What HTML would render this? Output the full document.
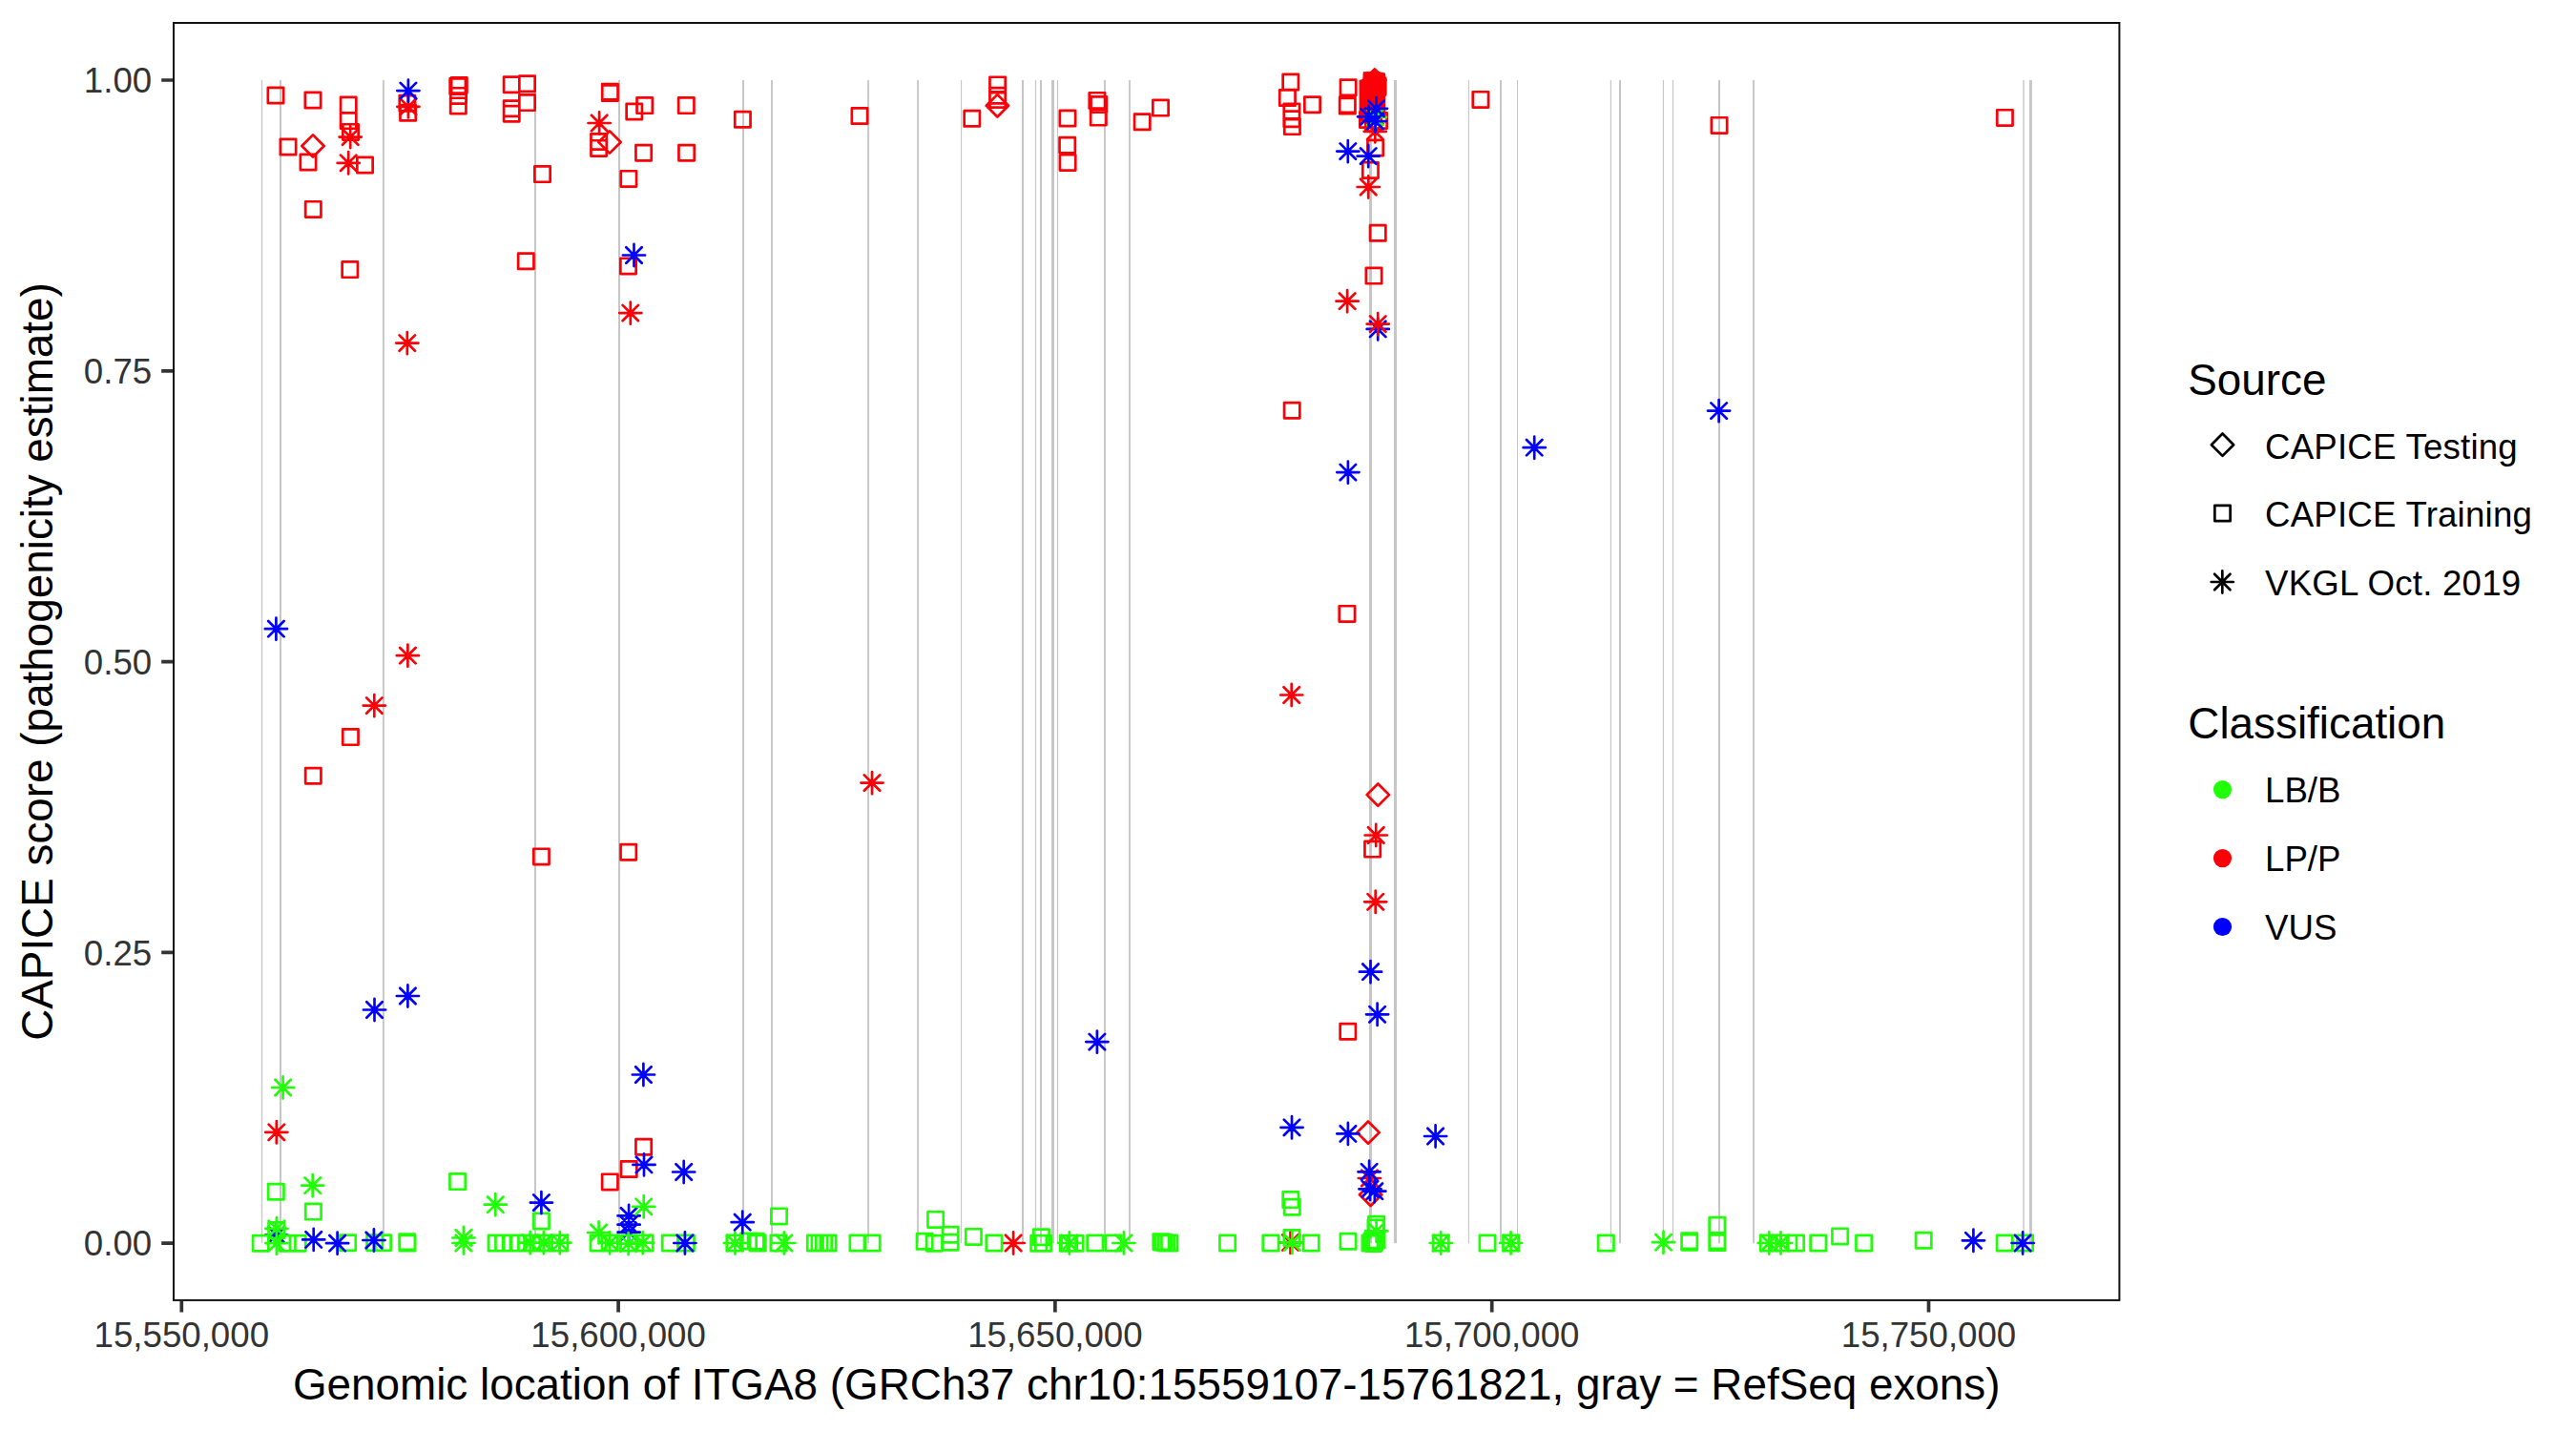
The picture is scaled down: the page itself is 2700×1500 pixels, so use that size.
<!DOCTYPE html>
<html><head><meta charset="utf-8"><title>CAPICE score plot</title>
<style>
html,body{margin:0;padding:0;background:#fff;}
body{width:2700px;height:1500px;overflow:hidden;}
svg{display:block;}
text{font-family:"Liberation Sans",Arial,Helvetica,sans-serif;}
</style></head><body>
<svg width="2700" height="1500" viewBox="0 0 2700 1500">
<rect x="0" y="0" width="2700" height="1500" fill="#ffffff"/>
<g fill="#C6C6C6"><rect x="273.85" y="84" width="1.3" height="1219.2"/><rect x="293" y="84" width="2" height="1219.2"/><rect x="400.95" y="84" width="1.9" height="1219.2"/><rect x="560" y="84" width="2" height="1219.2"/><rect x="648" y="84" width="2" height="1219.2"/><rect x="778.05" y="84" width="1.9" height="1219.2"/><rect x="808.05" y="84" width="1.9" height="1219.2"/><rect x="909.15" y="84" width="1.9" height="1219.2"/><rect x="961.15" y="84" width="1.9" height="1219.2"/><rect x="1007.05" y="84" width="1.1" height="1219.2"/><rect x="1070.95" y="84" width="2.1" height="1219.2"/><rect x="1084.9" y="84" width="1.2" height="1219.2"/><rect x="1090" y="84" width="2" height="1219.2"/><rect x="1102" y="84" width="3" height="1219.2"/><rect x="1107.9" y="84" width="1.2" height="1219.2"/><rect x="1157.05" y="84" width="1.9" height="1219.2"/><rect x="1183.1" y="84" width="1.8" height="1219.2"/><rect x="1434.95" y="84" width="3.1" height="1219.2"/><rect x="1460.95" y="84" width="3.1" height="1219.2"/><rect x="1538.85" y="84" width="1.1" height="1219.2"/><rect x="1572.05" y="84" width="1.9" height="1219.2"/><rect x="1590" y="84" width="1" height="1219.2"/><rect x="1687.8" y="84" width="1.2" height="1219.2"/><rect x="1697" y="84" width="2" height="1219.2"/><rect x="1742.85" y="84" width="1.1" height="1219.2"/><rect x="1752.9" y="84" width="1.2" height="1219.2"/><rect x="1801" y="84" width="2" height="1219.2"/><rect x="1837.05" y="84" width="1.9" height="1219.2"/><rect x="2120.3" y="84" width="1.4" height="1219.2"/><rect x="2126.95" y="84" width="2.9" height="1219.2"/></g>
<path fill="#FC0007" d="M1428.8 75.3L1436.6 75.1L1440.8 71.4L1444.9 75.1L1451.8 76.5L1452.5 80.7L1453.6 81.7L1453.6 99.3L1452.3 101.2L1452.3 121L1428 127.5L1425.3 127.5L1424.6 115L1424.6 84.1L1428.3 82.9z"/>
<g fill="none" stroke="#FC0007" stroke-width="2.7" stroke-linecap="round" stroke-linejoin="round"><path d="M280.85 91.85h16.3v16.3h-16.3zM319.85 96.85h16.3v16.3h-16.3zM357.05 101.95h16.3v16.3h-16.3zM357.05 118.45h16.3v16.3h-16.3zM359.35 130.25h16.3v16.3h-16.3zM293.85 145.85h16.3v16.3h-16.3zM314.85 161.85h16.3v16.3h-16.3zM374.35 164.85h16.3v16.3h-16.3zM320.15 211.25h16.3v16.3h-16.3zM358.65 274.45h16.3v16.3h-16.3zM320.15 805.05h16.3v16.3h-16.3zM359.25 764.45h16.3v16.3h-16.3zM418.75 100.15h16.3v16.3h-16.3zM419.45 110.15h16.3v16.3h-16.3zM473.15 81.25h16.3v16.3h-16.3zM471.65 82.35h16.3v16.3h-16.3zM472.35 92.25h16.3v16.3h-16.3zM472.15 102.75h16.3v16.3h-16.3zM528.05 80.55h16.3v16.3h-16.3zM544.35 79.65h16.3v16.3h-16.3zM544.35 99.45h16.3v16.3h-16.3zM528.05 105.55h16.3v16.3h-16.3zM528.05 111.05h16.3v16.3h-16.3zM560.35 174.45h16.3v16.3h-16.3zM543.15 265.65h16.3v16.3h-16.3zM559.25 889.75h16.3v16.3h-16.3zM631.25 88.15h16.3v16.3h-16.3zM631.25 89.45h16.3v16.3h-16.3zM656.65 108.85h16.3v16.3h-16.3zM667.55 102.45h16.3v16.3h-16.3zM711.15 102.45h16.3v16.3h-16.3zM770.25 117.15h16.3v16.3h-16.3zM892.85 113.35h16.3v16.3h-16.3zM619.45 140.35h16.3v16.3h-16.3zM619.45 147.25h16.3v16.3h-16.3zM666.45 152.05h16.3v16.3h-16.3zM711.45 152.05h16.3v16.3h-16.3zM650.75 179.25h16.3v16.3h-16.3zM650.35 270.75h16.3v16.3h-16.3zM650.55 885.05h16.3v16.3h-16.3zM631.15 1230.75h16.3v16.3h-16.3zM651.05 1217.35h16.3v16.3h-16.3zM666.45 1194.05h16.3v16.3h-16.3zM1010.65 116.15h16.3v16.3h-16.3zM1037.45 80.75h16.3v16.3h-16.3zM1037.45 92.15h16.3v16.3h-16.3zM1037.45 96.35h16.3v16.3h-16.3zM1110.85 115.85h16.3v16.3h-16.3zM1110.55 144.05h16.3v16.3h-16.3zM1110.95 162.25h16.3v16.3h-16.3zM1141.75 97.25h16.3v16.3h-16.3zM1143.55 101.45h16.3v16.3h-16.3zM1143.15 114.95h16.3v16.3h-16.3zM1189.05 119.65h16.3v16.3h-16.3zM1208.35 104.95h16.3v16.3h-16.3zM1344.65 77.85h16.3v16.3h-16.3zM1341.25 94.35h16.3v16.3h-16.3zM1345.75 108.75h16.3v16.3h-16.3zM1345.75 116.65h16.3v16.3h-16.3zM1346.25 124.45h16.3v16.3h-16.3zM1367.35 101.55h16.3v16.3h-16.3zM1404.95 83.65h16.3v16.3h-16.3zM1404.15 101.65h16.3v16.3h-16.3zM1404.15 102.85h16.3v16.3h-16.3zM1431.35 121.35h16.3v16.3h-16.3zM1425.35 117.35h16.3v16.3h-16.3zM1437.35 118.35h16.3v16.3h-16.3zM1433.45 146.85h16.3v16.3h-16.3zM1428.25 170.25h16.3v16.3h-16.3zM1436.05 236.15h16.3v16.3h-16.3zM1431.85 280.95h16.3v16.3h-16.3zM1346.05 422.05h16.3v16.3h-16.3zM1403.75 635.25h16.3v16.3h-16.3zM1430.45 881.95h16.3v16.3h-16.3zM1404.65 1073.15h16.3v16.3h-16.3zM1543.75 96.25h16.3v16.3h-16.3zM1793.85 123.25h16.3v16.3h-16.3zM2093.25 115.25h16.3v16.3h-16.3z"/><path d="M328 141.35L339.65 153L328 164.65L316.35 153zM639 137.35L650.65 149L639 160.65L627.35 149zM1045.4 99.15L1057.05 110.8L1045.4 122.45L1033.75 110.8zM1440.8 72.35L1452.45 84L1440.8 95.65L1429.15 84zM1444.3 821.45L1455.95 833.1L1444.3 844.75L1432.65 833.1zM1434 1175.45L1445.65 1187.1L1434 1198.75L1422.35 1187.1zM1436.6 1240.65L1448.25 1252.3L1436.6 1263.95L1424.95 1252.3z"/><path d="M355.6 143.6h23.2M367.2 132v23.2M359 135.4l16.4 16.4M359 151.8l16.4 -16.4M353.6 170.8h23.2M365.2 159.2v23.2M357 162.6l16.4 16.4M357 179l16.4 -16.4M416.3 111.8h23.2M427.9 100.2v23.2M419.7 103.6l16.4 16.4M419.7 120l16.4 -16.4M616.5 129h23.2M628.1 117.4v23.2M619.9 120.8l16.4 16.4M619.9 137.2l16.4 -16.4M415.2 359.6h23.2M426.8 348v23.2M418.6 351.4l16.4 16.4M418.6 367.8l16.4 -16.4M649.2 328.1h23.2M660.8 316.5v23.2M652.6 319.9l16.4 16.4M652.6 336.3l16.4 -16.4M415.8 687.2h23.2M427.4 675.6v23.2M419.2 679l16.4 16.4M419.2 695.4l16.4 -16.4M380.7 739.6h23.2M392.3 728v23.2M384.1 731.4l16.4 16.4M384.1 747.8l16.4 -16.4M902.4 820.6h23.2M914 809v23.2M905.8 812.4l16.4 16.4M905.8 828.8l16.4 -16.4M278.2 1186.8h23.2M289.8 1175.2v23.2M281.6 1178.6l16.4 16.4M281.6 1195l16.4 -16.4M1050.5 1303h23.2M1062.1 1291.4v23.2M1053.9 1294.8l16.4 16.4M1053.9 1311.2l16.4 -16.4M1340.9 1302.4h23.2M1352.5 1290.8v23.2M1344.3 1294.2l16.4 16.4M1344.3 1310.6l16.4 -16.4M1429.7 137.8h23.2M1441.3 126.2v23.2M1433.1 129.6l16.4 16.4M1433.1 146l16.4 -16.4M1422.6 196h23.2M1434.2 184.4v23.2M1426 187.8l16.4 16.4M1426 204.2l16.4 -16.4M1400.5 315.7h23.2M1412.1 304.1v23.2M1403.9 307.5l16.4 16.4M1403.9 323.9l16.4 -16.4M1342.1 728.5h23.2M1353.7 716.9v23.2M1345.5 720.3l16.4 16.4M1345.5 736.7l16.4 -16.4M1430.6 875.5h23.2M1442.2 863.9v23.2M1434 867.3l16.4 16.4M1434 883.7l16.4 -16.4M1430.1 945.3h23.2M1441.7 933.7v23.2M1433.5 937.1l16.4 16.4M1433.5 953.5l16.4 -16.4M1423.8 1235h23.2M1435.4 1223.4v23.2M1427.2 1226.8l16.4 16.4M1427.2 1243.2l16.4 -16.4"/></g>
<g fill="none" stroke="#0000FF" stroke-width="2.7" stroke-linecap="round" stroke-linejoin="round"><path d="M278.2 1294.5h23.2M289.8 1282.9v23.2M281.6 1286.3l16.4 16.4M281.6 1302.7l16.4 -16.4M647.5 1274.4h23.2M659.1 1262.8v23.2M650.9 1266.2l16.4 16.4M650.9 1282.6l16.4 -16.4M647.5 1283.7h23.2M659.1 1272.1v23.2M650.9 1275.5l16.4 16.4M650.9 1291.9l16.4 -16.4M647.5 1291.7h23.2M659.1 1280.1v23.2M650.9 1283.5l16.4 16.4M650.9 1299.9l16.4 -16.4"/></g>
<g fill="none" stroke="#21FF08" stroke-width="2.7" stroke-linecap="round" stroke-linejoin="round"><path d="M265.05 1295.05h16.3v16.3h-16.3zM281.55 1281.45h16.3v16.3h-16.3zM293.15 1295.05h16.3v16.3h-16.3zM303.95 1295.05h16.3v16.3h-16.3zM281.15 1241.15h16.3v16.3h-16.3zM320.25 1261.95h16.3v16.3h-16.3zM356.45 1294.55h16.3v16.3h-16.3zM384.55 1294.55h16.3v16.3h-16.3zM393.35 1294.55h16.3v16.3h-16.3zM418.55 1293.55h16.3v16.3h-16.3zM418.85 1294.85h16.3v16.3h-16.3zM471.45 1230.45h16.3v16.3h-16.3zM511.95 1294.85h16.3v16.3h-16.3zM519.45 1294.85h16.3v16.3h-16.3zM527.15 1294.85h16.3v16.3h-16.3zM534.95 1294.85h16.3v16.3h-16.3zM549.55 1294.85h16.3v16.3h-16.3zM559.25 1294.85h16.3v16.3h-16.3zM569.95 1294.85h16.3v16.3h-16.3zM578.65 1294.85h16.3v16.3h-16.3zM559.25 1271.75h16.3v16.3h-16.3zM618.95 1294.85h16.3v16.3h-16.3zM631.05 1294.85h16.3v16.3h-16.3zM650.45 1294.85h16.3v16.3h-16.3zM667.95 1294.85h16.3v16.3h-16.3zM694.15 1294.85h16.3v16.3h-16.3zM711.25 1294.85h16.3v16.3h-16.3zM761.75 1294.85h16.3v16.3h-16.3zM776.35 1292.85h16.3v16.3h-16.3zM784.05 1293.15h16.3v16.3h-16.3zM786.05 1294.85h16.3v16.3h-16.3zM808.35 1266.75h16.3v16.3h-16.3zM807.85 1294.85h16.3v16.3h-16.3zM846.25 1294.85h16.3v16.3h-16.3zM850.85 1294.85h16.3v16.3h-16.3zM855.35 1294.85h16.3v16.3h-16.3zM859.85 1294.85h16.3v16.3h-16.3zM890.85 1294.85h16.3v16.3h-16.3zM905.95 1294.85h16.3v16.3h-16.3zM972.45 1270.25h16.3v16.3h-16.3zM960.95 1293.15h16.3v16.3h-16.3zM971.15 1295.05h16.3v16.3h-16.3zM987.95 1286.05h16.3v16.3h-16.3zM987.95 1294.05h16.3v16.3h-16.3zM1012.25 1288.25h16.3v16.3h-16.3zM1033.75 1294.85h16.3v16.3h-16.3zM1083.35 1288.65h16.3v16.3h-16.3zM1080.55 1295.15h16.3v16.3h-16.3zM1085.35 1295.15h16.3v16.3h-16.3zM1111.25 1295.15h16.3v16.3h-16.3zM1112.55 1295.15h16.3v16.3h-16.3zM1118.95 1295.15h16.3v16.3h-16.3zM1139.65 1294.85h16.3v16.3h-16.3zM1159.05 1294.85h16.3v16.3h-16.3zM1208.75 1293.55h16.3v16.3h-16.3zM1211.35 1294.15h16.3v16.3h-16.3zM1214.35 1294.85h16.3v16.3h-16.3zM1217.45 1294.85h16.3v16.3h-16.3zM1278.45 1294.85h16.3v16.3h-16.3zM1323.75 1294.85h16.3v16.3h-16.3zM1344.65 1249.45h16.3v16.3h-16.3zM1346.15 1257.15h16.3v16.3h-16.3zM1345.85 1289.45h16.3v16.3h-16.3zM1366.05 1294.85h16.3v16.3h-16.3zM1404.85 1293.15h16.3v16.3h-16.3zM1434.45 1275.05h16.3v16.3h-16.3zM1433.85 1278.85h16.3v16.3h-16.3zM1431.45 1295.25h16.3v16.3h-16.3zM1434.85 1291.85h16.3v16.3h-16.3zM1427.85 1294.85h16.3v16.3h-16.3zM1432.35 1293.85h16.3v16.3h-16.3zM1429.85 1292.85h16.3v16.3h-16.3zM1502.05 1294.85h16.3v16.3h-16.3zM1550.85 1294.85h16.3v16.3h-16.3zM1575.45 1294.85h16.3v16.3h-16.3zM1675.15 1294.85h16.3v16.3h-16.3zM1762.55 1292.55h16.3v16.3h-16.3zM1762.55 1294.05h16.3v16.3h-16.3zM1791.65 1276.15h16.3v16.3h-16.3zM1791.65 1292.65h16.3v16.3h-16.3zM1791.65 1294.45h16.3v16.3h-16.3zM1845.25 1294.85h16.3v16.3h-16.3zM1856.85 1294.85h16.3v16.3h-16.3zM1866.65 1294.85h16.3v16.3h-16.3zM1874.35 1294.85h16.3v16.3h-16.3zM1897.65 1294.85h16.3v16.3h-16.3zM1920.45 1287.75h16.3v16.3h-16.3zM1945.45 1294.85h16.3v16.3h-16.3zM2008.05 1292.15h16.3v16.3h-16.3zM2093.05 1294.85h16.3v16.3h-16.3zM2114.35 1294.85h16.3v16.3h-16.3z"/><path d="M285 1140h23.2M296.6 1128.4v23.2M288.4 1131.8l16.4 16.4M288.4 1148.2l16.4 -16.4M316.1 1242.7h23.2M327.7 1231.1v23.2M319.5 1234.5l16.4 16.4M319.5 1250.9l16.4 -16.4M278.3 1287.8h23.2M289.9 1276.2v23.2M281.7 1279.6l16.4 16.4M281.7 1296l16.4 -16.4M278.3 1303.2h23.2M289.9 1291.6v23.2M281.7 1295l16.4 16.4M281.7 1311.4l16.4 -16.4M474.3 1297.5h23.2M485.9 1285.9v23.2M477.7 1289.3l16.4 16.4M477.7 1305.7l16.4 -16.4M474.3 1303h23.2M485.9 1291.4v23.2M477.7 1294.8l16.4 16.4M477.7 1311.2l16.4 -16.4M507.7 1262.7h23.2M519.3 1251.1v23.2M511.1 1254.5l16.4 16.4M511.1 1270.9l16.4 -16.4M544.1 1302.7h23.2M555.7 1291.1v23.2M547.5 1294.5l16.4 16.4M547.5 1310.9l16.4 -16.4M558.2 1302.7h23.2M569.8 1291.1v23.2M561.6 1294.5l16.4 16.4M561.6 1310.9l16.4 -16.4M575.2 1302.7h23.2M586.8 1291.1v23.2M578.6 1294.5l16.4 16.4M578.6 1310.9l16.4 -16.4M616 1292h23.2M627.6 1280.4v23.2M619.4 1283.8l16.4 16.4M619.4 1300.2l16.4 -16.4M627.6 1302.7h23.2M639.2 1291.1v23.2M631 1294.5l16.4 16.4M631 1310.9l16.4 -16.4M647 1303.6h23.2M658.6 1292v23.2M650.4 1295.4l16.4 16.4M650.4 1311.8l16.4 -16.4M662.1 1302.7h23.2M673.7 1291.1v23.2M665.5 1294.5l16.4 16.4M665.5 1310.9l16.4 -16.4M663.1 1264.8h23.2M674.7 1253.2v23.2M666.5 1256.6l16.4 16.4M666.5 1273l16.4 -16.4M758.8 1303h23.2M770.4 1291.4v23.2M762.2 1294.8l16.4 16.4M762.2 1311.2l16.4 -16.4M810.2 1303h23.2M821.8 1291.4v23.2M813.6 1294.8l16.4 16.4M813.6 1311.2l16.4 -16.4M1109.2 1303h23.2M1120.8 1291.4v23.2M1112.6 1294.8l16.4 16.4M1112.6 1311.2l16.4 -16.4M1166.3 1303h23.2M1177.9 1291.4v23.2M1169.7 1294.8l16.4 16.4M1169.7 1311.2l16.4 -16.4M1342.8 1302.4h23.2M1354.4 1290.8v23.2M1346.2 1294.2l16.4 16.4M1346.2 1310.6l16.4 -16.4M1431 1290.3h23.2M1442.6 1278.7v23.2M1434.4 1282.1l16.4 16.4M1434.4 1298.5l16.4 -16.4M1498.6 1303h23.2M1510.2 1291.4v23.2M1502 1294.8l16.4 16.4M1502 1311.2l16.4 -16.4M1572 1303h23.2M1583.6 1291.4v23.2M1575.4 1294.8l16.4 16.4M1575.4 1311.2l16.4 -16.4M1731.9 1302.2h23.2M1743.5 1290.6v23.2M1735.3 1294l16.4 16.4M1735.3 1310.4l16.4 -16.4M1842.6 1303h23.2M1854.2 1291.4v23.2M1846 1294.8l16.4 16.4M1846 1311.2l16.4 -16.4M1854.9 1303h23.2M1866.5 1291.4v23.2M1858.3 1294.8l16.4 16.4M1858.3 1311.2l16.4 -16.4M1429.8 122.9h23.2M1441.4 111.3v23.2M1433.2 114.7l16.4 16.4M1433.2 131.1l16.4 -16.4"/></g>
<g fill="none" stroke="#0000FF" stroke-width="2.7" stroke-linecap="round" stroke-linejoin="round"><path d="M416.3 95.1h23.2M427.9 83.5v23.2M419.7 86.9l16.4 16.4M419.7 103.3l16.4 -16.4M277.8 659.2h23.2M289.4 647.6v23.2M281.2 651l16.4 16.4M281.2 667.4l16.4 -16.4M380.9 1058.5h23.2M392.5 1046.9v23.2M384.3 1050.3l16.4 16.4M384.3 1066.7l16.4 -16.4M415.8 1044h23.2M427.4 1032.4v23.2M419.2 1035.8l16.4 16.4M419.2 1052.2l16.4 -16.4M652.9 267.5h23.2M664.5 255.9v23.2M656.3 259.3l16.4 16.4M656.3 275.7l16.4 -16.4M662.8 1126.5h23.2M674.4 1114.9v23.2M666.2 1118.3l16.4 16.4M666.2 1134.7l16.4 -16.4M663.4 1220.9h23.2M675 1209.3v23.2M666.8 1212.7l16.4 16.4M666.8 1229.1l16.4 -16.4M705.1 1228.5h23.2M716.7 1216.9v23.2M708.5 1220.3l16.4 16.4M708.5 1236.7l16.4 -16.4M555.8 1260.6h23.2M567.4 1249v23.2M559.2 1252.4l16.4 16.4M559.2 1268.8l16.4 -16.4M317.1 1299.4h23.2M328.7 1287.8v23.2M320.5 1291.2l16.4 16.4M320.5 1307.6l16.4 -16.4M342 1303.2h23.2M353.6 1291.6v23.2M345.4 1295l16.4 16.4M345.4 1311.4l16.4 -16.4M380.3 1300h23.2M391.9 1288.4v23.2M383.7 1291.8l16.4 16.4M383.7 1308.2l16.4 -16.4M706.3 1303h23.2M717.9 1291.4v23.2M709.7 1294.8l16.4 16.4M709.7 1311.2l16.4 -16.4M766.6 1281.2h23.2M778.2 1269.6v23.2M770 1273l16.4 16.4M770 1289.4l16.4 -16.4M1138.3 1092.1h23.2M1149.9 1080.5v23.2M1141.7 1083.9l16.4 16.4M1141.7 1100.3l16.4 -16.4M1342.4 1181.8h23.2M1354 1170.2v23.2M1345.8 1173.6l16.4 16.4M1345.8 1190l16.4 -16.4M1401.3 1188.4h23.2M1412.9 1176.8v23.2M1404.7 1180.2l16.4 16.4M1404.7 1196.6l16.4 -16.4M1423.5 1228.3h23.2M1435.1 1216.7v23.2M1426.9 1220.1l16.4 16.4M1426.9 1236.5l16.4 -16.4M1424.4 1246.3h23.2M1436 1234.7v23.2M1427.8 1238.1l16.4 16.4M1427.8 1254.5l16.4 -16.4M1429.2 1248.7h23.2M1440.8 1237.1v23.2M1432.6 1240.5l16.4 16.4M1432.6 1256.9l16.4 -16.4M1493 1191h23.2M1504.6 1179.4v23.2M1496.4 1182.8l16.4 16.4M1496.4 1199.2l16.4 -16.4M1424.9 1018.7h23.2M1436.5 1007.1v23.2M1428.3 1010.5l16.4 16.4M1428.3 1026.9l16.4 -16.4M1432 1063.3h23.2M1443.6 1051.7v23.2M1435.4 1055.1l16.4 16.4M1435.4 1071.5l16.4 -16.4M1401.3 495.1h23.2M1412.9 483.5v23.2M1404.7 486.9l16.4 16.4M1404.7 503.3l16.4 -16.4M1432.6 344.9h23.2M1444.2 333.3v23.2M1436 336.7l16.4 16.4M1436 353.1l16.4 -16.4M1401.2 158.6h23.2M1412.8 147v23.2M1404.6 150.4l16.4 16.4M1404.6 166.8l16.4 -16.4M1422.6 163.6h23.2M1434.2 152v23.2M1426 155.4l16.4 16.4M1426 171.8l16.4 -16.4M1430.8 113.8h23.2M1442.4 102.2v23.2M1434.2 105.6l16.4 16.4M1434.2 122l16.4 -16.4M1423 122.3h23.2M1434.6 110.7v23.2M1426.4 114.1l16.4 16.4M1426.4 130.5l16.4 -16.4M1429.9 127.2h23.2M1441.5 115.6v23.2M1433.3 119l16.4 16.4M1433.3 135.4l16.4 -16.4M1596.6 469.2h23.2M1608.2 457.6v23.2M1600 461l16.4 16.4M1600 477.4l16.4 -16.4M1790 430.6h23.2M1801.6 419v23.2M1793.4 422.4l16.4 16.4M1793.4 438.8l16.4 -16.4M2056.8 1300.3h23.2M2068.4 1288.7v23.2M2060.2 1292.1l16.4 16.4M2060.2 1308.5l16.4 -16.4M2108.5 1303h23.2M2120.1 1291.4v23.2M2111.9 1294.8l16.4 16.4M2111.9 1311.2l16.4 -16.4"/></g>
<g fill="none" stroke="#FC0007" stroke-width="2.7" stroke-linecap="round" stroke-linejoin="round"><path d="M1432.6 339.6h23.2M1444.2 328v23.2M1436 331.4l16.4 16.4M1436 347.8l16.4 -16.4"/></g>
<rect x="182" y="24" width="2039.4" height="1338.9" fill="none" stroke="#111111" stroke-width="2"/>
<path d="M169.2 1303.2H181M169.2 998.4H181M169.2 693.6H181M169.2 388.8H181M169.2 84H181M190.3 1363.8V1375.5M648.1 1363.8V1375.5M1105.9 1363.8V1375.5M1563.7 1363.8V1375.5M2021.5 1363.8V1375.5" stroke="#333333" stroke-width="3.7" fill="none"/>
<text x="159.2" y="1316.4" font-size="36.67" fill="#333333" text-anchor="end">0.00</text>
<text x="159.2" y="1011.6" font-size="36.67" fill="#333333" text-anchor="end">0.25</text>
<text x="159.2" y="706.8" font-size="36.67" fill="#333333" text-anchor="end">0.50</text>
<text x="159.2" y="402" font-size="36.67" fill="#333333" text-anchor="end">0.75</text>
<text x="159.2" y="97.2" font-size="36.67" fill="#333333" text-anchor="end">1.00</text>
<text x="190.3" y="1412" font-size="36.67" fill="#333333" text-anchor="middle">15,550,000</text>
<text x="648.1" y="1412" font-size="36.67" fill="#333333" text-anchor="middle">15,600,000</text>
<text x="1105.9" y="1412" font-size="36.67" fill="#333333" text-anchor="middle">15,650,000</text>
<text x="1563.7" y="1412" font-size="36.67" fill="#333333" text-anchor="middle">15,700,000</text>
<text x="2021.5" y="1412" font-size="36.67" fill="#333333" text-anchor="middle">15,750,000</text>
<text x="1201.7" y="1467" font-size="45.83" fill="#000000" text-anchor="middle">Genomic location of ITGA8 (GRCh37 chr10:15559107-15761821, gray = RefSeq exons)</text>
<text transform="translate(54.7 693.5) rotate(-90)" x="0" y="0" font-size="45.83" fill="#000000" text-anchor="middle">CAPICE score (pathogenicity estimate)</text>
<text x="2293.3" y="413.5" font-size="45.83" fill="#000000">Source</text>
<text x="2293.3" y="773.8" font-size="45.83" fill="#000000">Classification</text>
<text x="2374" y="480.5" font-size="36.67" fill="#000000" letter-spacing="0.2">CAPICE Testing</text>
<text x="2374" y="551.8" font-size="36.67" fill="#000000" letter-spacing="0.2">CAPICE Training</text>
<text x="2374" y="624.2" font-size="36.67" fill="#000000" letter-spacing="0.2">VKGL Oct. 2019</text>
<text x="2374" y="841" font-size="36.67" fill="#000000">LB/B</text>
<text x="2374" y="912.8" font-size="36.67" fill="#000000">LP/P</text>
<text x="2374" y="984.6" font-size="36.67" fill="#000000">VUS</text>
<g fill="none" stroke="#000000" stroke-width="2.7" stroke-linecap="round" stroke-linejoin="round"><path d="M2329.5 454.55L2341.15 466.2L2329.5 477.85L2317.85 466.2z"/><path d="M2321.35 529.85h16.3v16.3h-16.3z"/><path d="M2317.7 610h23.2M2329.3 598.4v23.2M2321.1 601.8l16.4 16.4M2321.1 618.2l16.4 -16.4"/></g>
<circle cx="2329.5" cy="827.6" r="9.6" fill="#21FF08"/>
<circle cx="2329.5" cy="899.6" r="9.6" fill="#FC0007"/>
<circle cx="2329.5" cy="971.5" r="9.6" fill="#0000FF"/>
</svg>
</body></html>
